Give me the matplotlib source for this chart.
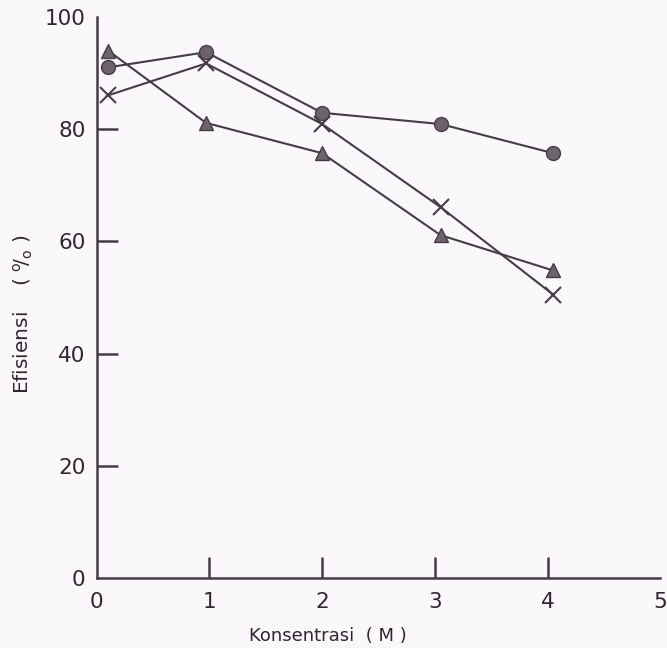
import matplotlib
matplotlib.use("Agg")
import matplotlib.pyplot as plt

# Konsentrasi (M) at which each point was plotted
konsentrasi = [0.1, 0.97, 2.0, 3.05, 4.05]

# Efisiensi (%) per series
eff_circle = [91, 93.7, 82.9, 80.9, 75.7]
eff_cross = [86, 91.7, 80.9, 66.1, 50.5]
eff_triangle = [94, 81.1, 75.7, 61.1, 54.8]

yticks = [0, 20, 40, 60, 80, 100]
xticks = [0, 1, 2, 3, 4, 5]

ink = "#463c46"
fill = "#6e626e"
paper = "#fbf8fb"

fig = plt.figure(figsize=(6.67, 6.48), dpi=100, facecolor=paper)
ax = fig.add_axes([0.145, 0.108, 0.845, 0.866], facecolor=paper)

ax.plot(konsentrasi, eff_circle, color=ink, lw=1.5, marker="o", ms=10,
        mfc=fill, mec=ink, mew=1.0)
ax.plot(konsentrasi, eff_cross, color=ink, lw=1.5, marker="x", ms=11,
        mec=ink, mew=1.5)
ax.plot(konsentrasi, eff_triangle, color=ink, lw=1.5, marker="^", ms=10,
        mfc=fill, mec=ink, mew=1.0)

ax.set_xlim(0, 5)
ax.set_ylim(0, 100)
ax.set_xticks(xticks)
ax.set_yticks(yticks)

for side in ("top", "right"):
    ax.spines[side].set_visible(False)
for side in ("left", "bottom"):
    ax.spines[side].set_color(ink)
    ax.spines[side].set_linewidth(1.8)

ax.tick_params(axis="both", direction="in", length=15, width=1.8, color=ink,
               labelcolor="#2e282e", labelsize=15.5)
ax.tick_params(axis="y", pad=8)
ax.tick_params(axis="x", pad=10)

# no tick marks at the ends (0, 100 and 5), only labels
for axis in (ax.xaxis, ax.yaxis):
    ticks = axis.get_major_ticks()
    ticks[0].tick1line.set_visible(False)
    ticks[-1].tick1line.set_visible(False)

ax.set_xlabel("Konsentrasi  ( M )", fontsize=13, color="#2e282e")
ax.xaxis.set_label_coords(0.41, -0.088)
ax.set_ylabel(r"Efisiensi    ( $^{\mathrm{o}}\!/_{\mathrm{o}}$ )", fontsize=14.5, color="#2e282e")
ax.yaxis.set_label_coords(-0.11, 0.47)

fig.savefig("out.png", dpi=100, facecolor=paper)
